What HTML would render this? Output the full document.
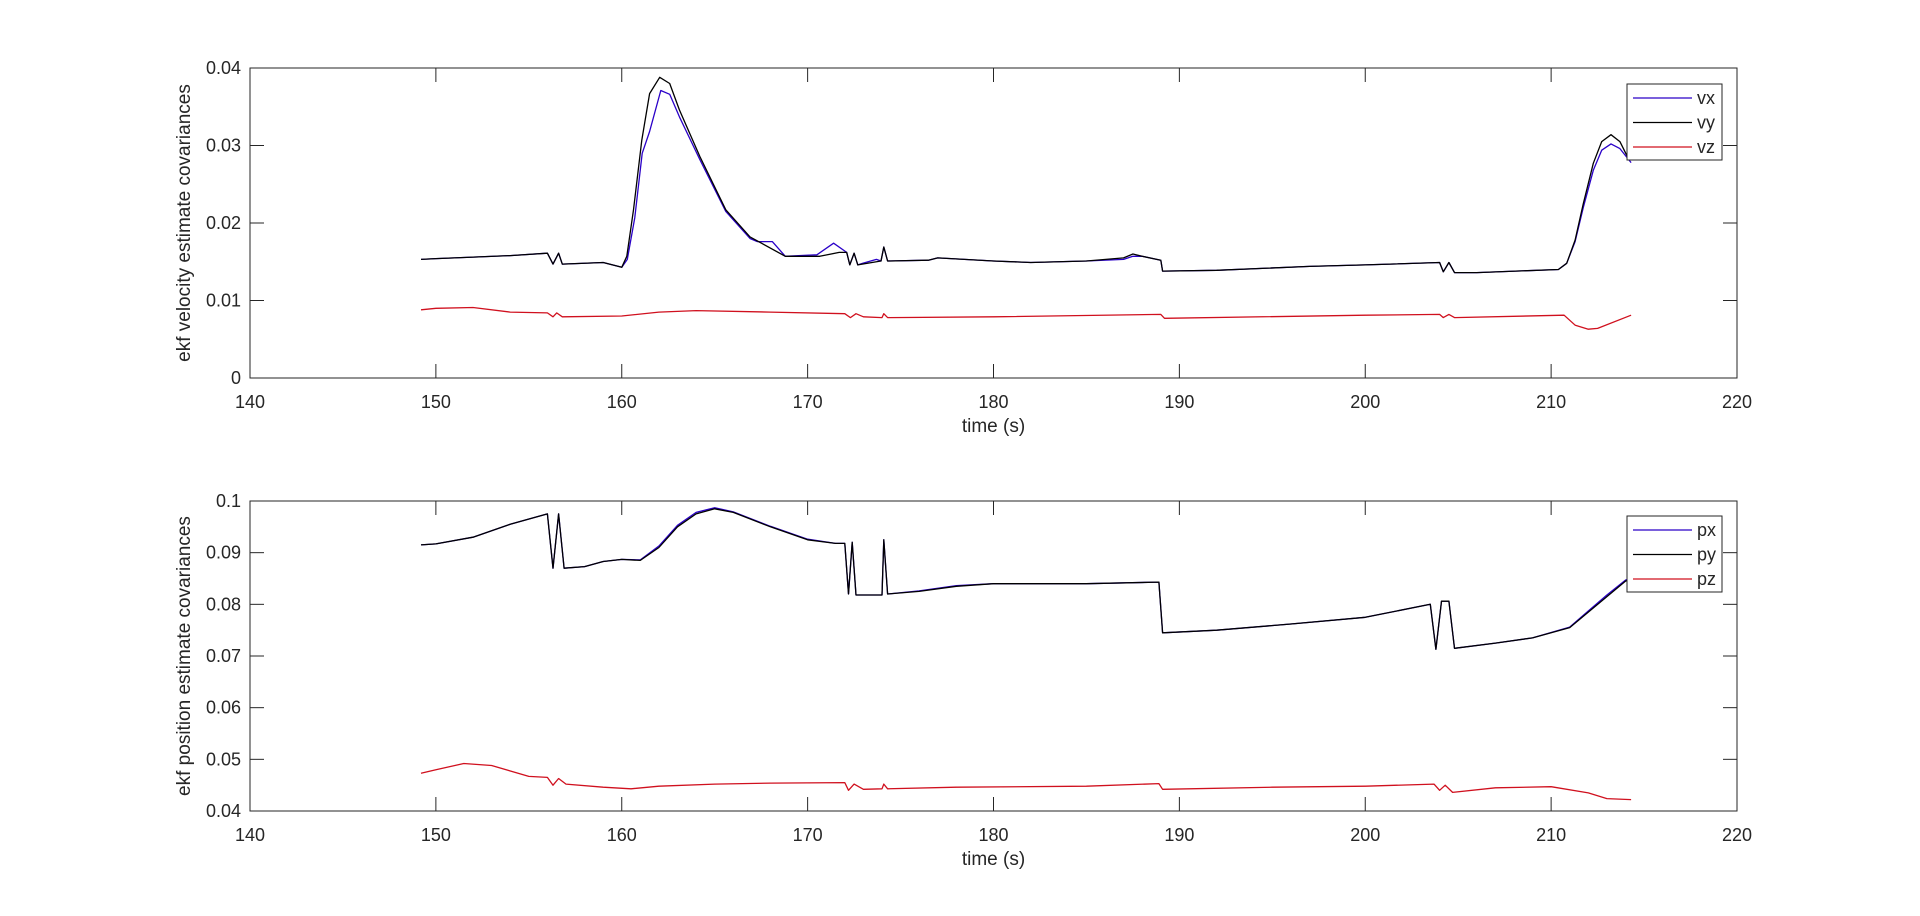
<!DOCTYPE html>
<html><head><meta charset="utf-8"><style>
body{margin:0;background:#fff;}
svg text{font-family:"Liberation Sans",sans-serif;fill:#262626;}
</style></head><body>
<svg id="fig" width="1920" height="911" xmlns="http://www.w3.org/2000/svg"></svg>
<script>
const tVy=[149.2,150,152,154,156,156.3,156.6,156.8,159,160,160.27,160.63,161.08,161.5,162.04,162.58,163.1,164.2,165.6,166.9,168.8,170.65,171.7,172.1,172.27,172.5,172.7,173.95,174.1,174.3,176.5,177,180,182,185,187,187.5,188,189,189.1,192,197,200,204,204.2,204.5,204.8,206,210.39,210.84,211.29,211.73,212.27,212.72,213.22,213.7,214.2];
const vy=[0.0153,0.0154,0.0156,0.0158,0.0161,0.0147,0.0161,0.0147,0.0149,0.0143,0.0157,0.0217,0.0307,0.0367,0.0388,0.038,0.0346,0.0286,0.0217,0.0182,0.0157,0.0157,0.0162,0.0162,0.0146,0.0161,0.0146,0.0151,0.0169,0.0151,0.0152,0.0155,0.0151,0.0149,0.0151,0.0155,0.016,0.0157,0.0152,0.0138,0.0139,0.0144,0.0146,0.0149,0.0137,0.0149,0.0136,0.0136,0.014,0.0148,0.0178,0.0225,0.0277,0.0305,0.0314,0.0305,0.0281];
const tVx=[149.2,150,152,154,156,156.3,156.6,156.8,159,160,160.3,160.7,161.1,161.5,162.1,162.58,163.1,164.2,165.6,166.9,167.3,168.1,168.8,170.5,171.4,172.1,172.27,172.5,172.7,172.97,173.7,173.95,174.1,174.3,176.5,177,180,182,185,187,187.5,188,189,189.1,192,197,200,204,204.2,204.5,204.8,206,210.39,210.84,211.29,211.73,212.27,212.72,213.22,213.7,214.3];
const vx=[0.0153,0.0154,0.0156,0.0158,0.0161,0.0147,0.0161,0.0147,0.0149,0.0143,0.0153,0.0207,0.029,0.0318,0.0371,0.0366,0.0337,0.0282,0.0215,0.018,0.0176,0.0176,0.0157,0.0159,0.0174,0.0162,0.0146,0.0161,0.0146,0.0148,0.0153,0.0151,0.0169,0.0151,0.0152,0.0155,0.0151,0.0149,0.0151,0.0153,0.0157,0.0157,0.0152,0.0138,0.0139,0.0144,0.0146,0.0149,0.0137,0.0149,0.0136,0.0136,0.014,0.0148,0.0176,0.022,0.0268,0.0294,0.0302,0.0296,0.0278];
const tZ=[149.2,150,152,154,156,156.3,156.5,156.8,160,162,164,168,172,172.3,172.6,173,174,174.1,174.3,180,189,189.2,200,204,204.2,204.5,204.8,210.7,211.3,212,212.5,214.3];
const vz=[0.0088,0.009,0.0091,0.0085,0.0084,0.0079,0.0084,0.0079,0.008,0.0085,0.0087,0.0085,0.0083,0.0078,0.0083,0.0079,0.0078,0.0083,0.0078,0.0079,0.0082,0.0077,0.0081,0.0082,0.0078,0.0082,0.0078,0.0081,0.0068,0.0063,0.0064,0.0081];
const tP=[149.2,150,152,154,156,156.3,156.6,156.9,158,159,160,161,162,163,164,165,166,168,170,171.5,172,172.2,172.4,172.6,174,174.1,174.3,176,178,180,185,188.9,189.1,192,196,200,203.5,203.8,204.1,204.5,204.8,207,209,211,212,213,214,214.3];
const py=[0.0915,0.0917,0.093,0.0955,0.0975,0.087,0.0975,0.087,0.0873,0.0883,0.0887,0.0885,0.091,0.095,0.0975,0.0985,0.0978,0.095,0.0925,0.0918,0.0918,0.082,0.092,0.0818,0.0818,0.0925,0.082,0.0825,0.0835,0.084,0.084,0.0843,0.0745,0.075,0.0762,0.0775,0.080,0.0713,0.0806,0.0806,0.0715,0.0725,0.0735,0.0755,0.0785,0.0815,0.0845,0.085];
const px=[0.0915,0.0917,0.093,0.0955,0.0975,0.087,0.0975,0.087,0.0873,0.0883,0.0887,0.0886,0.0913,0.0953,0.0978,0.0987,0.0979,0.0951,0.0926,0.0918,0.0918,0.082,0.092,0.0818,0.0818,0.0925,0.082,0.0826,0.0836,0.084,0.084,0.0843,0.0745,0.075,0.0762,0.0775,0.080,0.0713,0.0806,0.0806,0.0715,0.0725,0.0735,0.0756,0.0787,0.0818,0.0847,0.0851];
const tQ=[149.2,150,151.5,153,155,156,156.3,156.6,157,159,160.5,162,165,168,172,172.2,172.5,173,174,174.1,174.3,178,185,188.9,189.1,195,200,203.7,204,204.3,204.7,207,210,212,213,214.3];
const pz=[0.0473,0.048,0.0492,0.0488,0.0467,0.0465,0.045,0.0463,0.0452,0.0446,0.0443,0.0448,0.0452,0.0454,0.0455,0.044,0.0452,0.0442,0.0443,0.0452,0.0443,0.0446,0.0448,0.0453,0.0442,0.0446,0.0448,0.0452,0.044,0.045,0.0436,0.0445,0.0447,0.0435,0.0424,0.0422];
const xTicks=[140,150,160,170,180,190,200,210,220];
const yTicksTop=[0,0.01,0.02,0.03,0.04];
const yTicksBot=[0.04,0.05,0.06,0.07,0.08,0.09,0.1];

const svg=document.getElementById('fig');
const NS='http://www.w3.org/2000/svg';
function mk(tag,attrs,parent,text){const e=document.createElementNS(NS,tag);for(const k in attrs)e.setAttribute(k,attrs[k]);if(text!==undefined)e.textContent=text;(parent||svg).appendChild(e);return e;}
const L=250,R=1737;
function drawAxes(top,bot,ymin,ymax,yTicks,ylabel,series,legendTop,prefix){
  const g=mk('g',{});
  
  
  const X=v=>L+(v-140)/80*(R-L);
  const Y=v=>bot-(v-ymin)/(ymax-ymin)*(bot-top);
  const box=mk('rect',{x:L,y:top,width:R-L,height:bot-top,fill:'none',stroke:'#262626','stroke-width':1},g);
  
  
  xTicks.forEach(v=>{
    const x=X(v);
    mk('line',{x1:x,x2:x,y1:bot,y2:bot-14,stroke:'#262626'},g);
    mk('line',{x1:x,x2:x,y1:top,y2:top+14,stroke:'#262626'},g);
    const t=mk('text',{x:x,y:bot+30,'font-size':18,'text-anchor':'middle'},g,String(v));
    
    
  });
  yTicks.forEach(v=>{
    const y=Y(v);
    mk('line',{x1:L,x2:L+14,y1:y,y2:y,stroke:'#262626'},g);
    mk('line',{x1:R,x2:R-14,y1:y,y2:y,stroke:'#262626'},g);
    const t=mk('text',{x:L-9,y:y+6,'font-size':18,'text-anchor':'end'},g,String(v));
    
    
  });
  const xl=mk('text',{x:(L+R)/2,y:bot+54,'font-size':19,'text-anchor':'middle'},g,'time (s)');
  
  
  const cy=(top+bot)/2;
  const yl=mk('text',{x:190,y:cy,'font-size':19,'text-anchor':'middle',transform:'rotate(-90 190 '+cy+')'},g,ylabel);
  
  
  series.forEach(s=>{
    const d=s.t.map((tt,i)=>(i?'L':'M')+X(tt).toFixed(1)+','+Y(s.v[i]).toFixed(1)).join('');
    const p=mk('path',{d:d,fill:'none',stroke:s.c,'stroke-width':1.3,'stroke-linejoin':'round'},g);
    
    
  });
  const lg=mk('g',{},g);
  
  
  mk('rect',{x:1627,y:legendTop,width:95,height:76,fill:'#fff',stroke:'#262626'},lg);
  series.forEach((s,i)=>{
    const y=legendTop+14+i*24.5;
    mk('line',{x1:1633,x2:1692,y1:y,y2:y,stroke:s.c,'stroke-width':1.3},lg);
    const t=mk('text',{x:1697,y:y+6,'font-size':18},lg,s.n);
    
    
  });
}
drawAxes(68,378,0,0.04,yTicksTop,'ekf velocity estimate covariances',
 [{n:'vx',t:tVx,v:vx,c:'#2a00c8'},{n:'vy',t:tVy,v:vy,c:'#000'},{n:'vz',t:tZ,v:vz,c:'#d0101e'}],84,'velocity');
drawAxes(501,811,0.04,0.1,yTicksBot,'ekf position estimate covariances',
 [{n:'px',t:tP,v:px,c:'#2a00c8'},{n:'py',t:tP,v:py,c:'#000'},{n:'pz',t:tQ,v:pz,c:'#d0101e'}],516,'position');
</script>
</body></html>
